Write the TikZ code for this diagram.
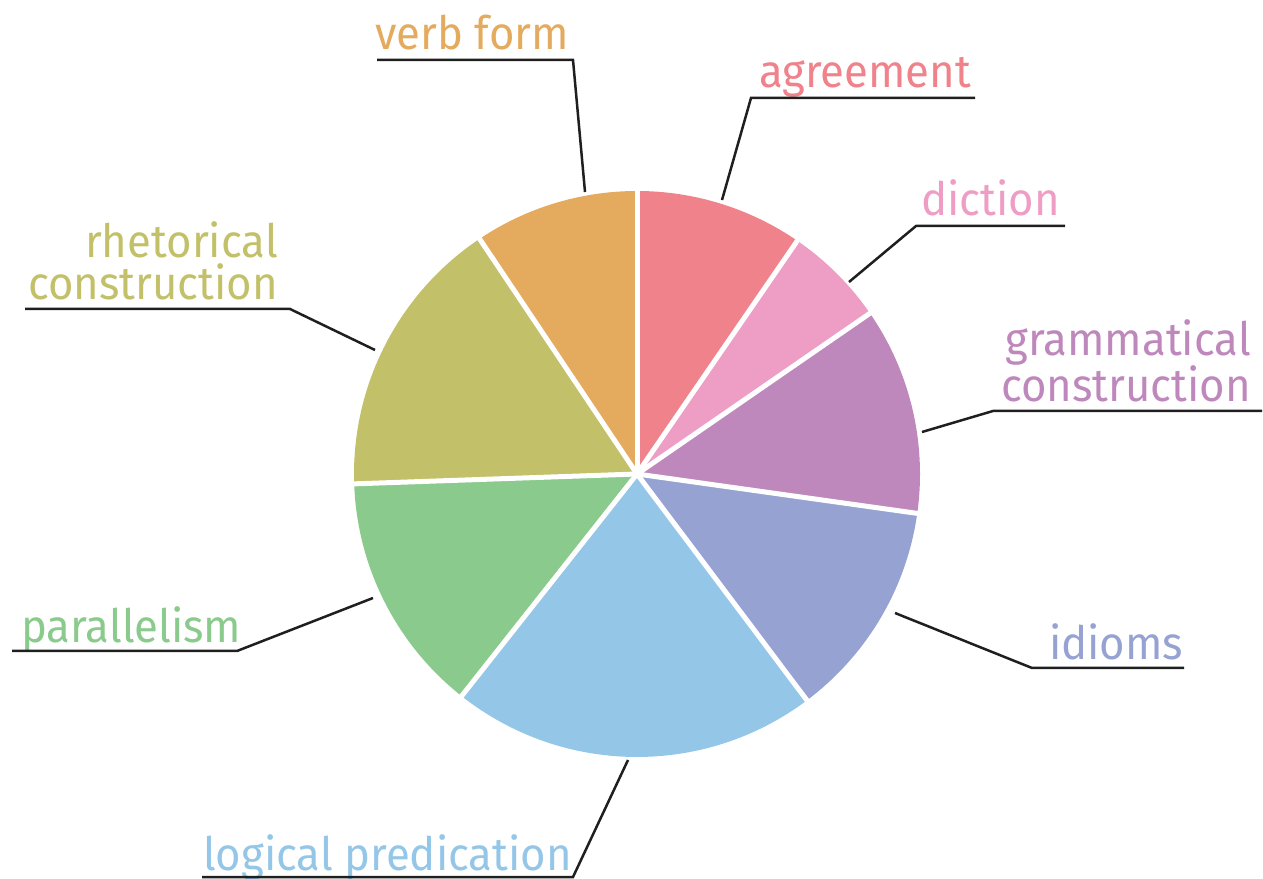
\documentclass[tikz,border=0pt]{standalone}
\usepackage{fontspec}
\newfontfamily\lblfont{Fira Sans}[FakeStretch=0.95]
\usetikzlibrary{positioning}

\definecolor{agreec}{HTML}{F0828B}
\definecolor{dictc}{HTML}{EE9DC4}
\definecolor{gramc}{HTML}{BE88BC}
\definecolor{idiomc}{HTML}{96A3D2}
\definecolor{logicc}{HTML}{94C6E8}
\definecolor{parac}{HTML}{8ACA8C}
\definecolor{rhetc}{HTML}{C3C06A}
\definecolor{verbc}{HTML}{E4AB5F}

\begin{document}
\begin{tikzpicture}[x=1pt,y=1pt]
	\tikzset{lbl/.style={font=\lblfont\fontsize{46}{42}\selectfont,inner sep=0pt},
		leader/.style={draw=black!88,line width=2.5pt}}
	\useasboundingbox (0,0) rectangle (1263,878);
	\coordinate (O) at (637,404);

	%% Draw pie slices
	\foreach \a/\b/\c in {90/55.5/agreec,55.5/34.6/dictc,34.6/-8/gramc,-8/-53.1/idiomc,
		-53.1/-128.3/logicc,-128.3/-178/parac,182/123.8/rhetc,123.8/90/verbc}
		\fill[\c] (O) -- ++(\a:283pt) arc[start angle=\a,end angle=\b,radius=283pt] -- cycle;
	\foreach \a in {90,55.5,34.6,-8,-53.1,-128.3,182,123.8}
		\draw[white,line width=5pt] (O) -- ++(\a:285pt);

	%% Labels
	\node[lbl,anchor=base west,text=verbc] (verb) at (375,828) {verb form};
	\node[lbl,anchor=base west,text=agreec] (agr) at (759,790) {agreement};
	\node[lbl,anchor=base west,text=dictc] (dict) at (921,662) {diction};
	\node[lbl,anchor=base east,align=right,text=gramc] (gram) at (1251,476) {grammatical\\construction};
	\node[lbl,anchor=base west,text=idiomc] (idiom) at (1049,218) {idioms};
	\node[lbl,anchor=base west,text=logicc] (logic) at (203,8) {logical predication};
	\node[lbl,anchor=base west,text=parac] (para) at (21,235) {parallelism};
	\node[lbl,anchor=base east,align=right,text=rhetc] (rhet) at (278,578) {rhetorical\\construction};

	%% Leader lines
	\coordinate (verbA) at (585,686); \coordinate (verbB) at (573,818); \coordinate (verbC) at (377,818);
	\coordinate (agrA) at (722,678); \coordinate (agrB) at (751,780); \coordinate (agrC) at (975,780);
	\coordinate (dictA) at (849,596); \coordinate (dictB) at (916,652); \coordinate (dictC) at (1065,652);
	\coordinate (gramA) at (922,446); \coordinate (gramB) at (993,467); \coordinate (gramC) at (1262,467);
	\coordinate (idiomA) at (895,265); \coordinate (idiomB) at (1032,210); \coordinate (idiomC) at (1184,210);
	\coordinate (logicA) at (628,118); \coordinate (logicB) at (573,1); \coordinate (logicC) at (202,1);
	\coordinate (paraA) at (373,280); \coordinate (paraB) at (237,227); \coordinate (paraC) at (12,227);
	\coordinate (rhetA) at (375,528); \coordinate (rhetB) at (290,569); \coordinate (rhetC) at (25,569);
	\foreach \n in {verb,agr,dict,gram,idiom,logic,para,rhet}
		\draw[leader] (\n A) -- (\n B) -- (\n C);
\end{tikzpicture}
\end{document}
